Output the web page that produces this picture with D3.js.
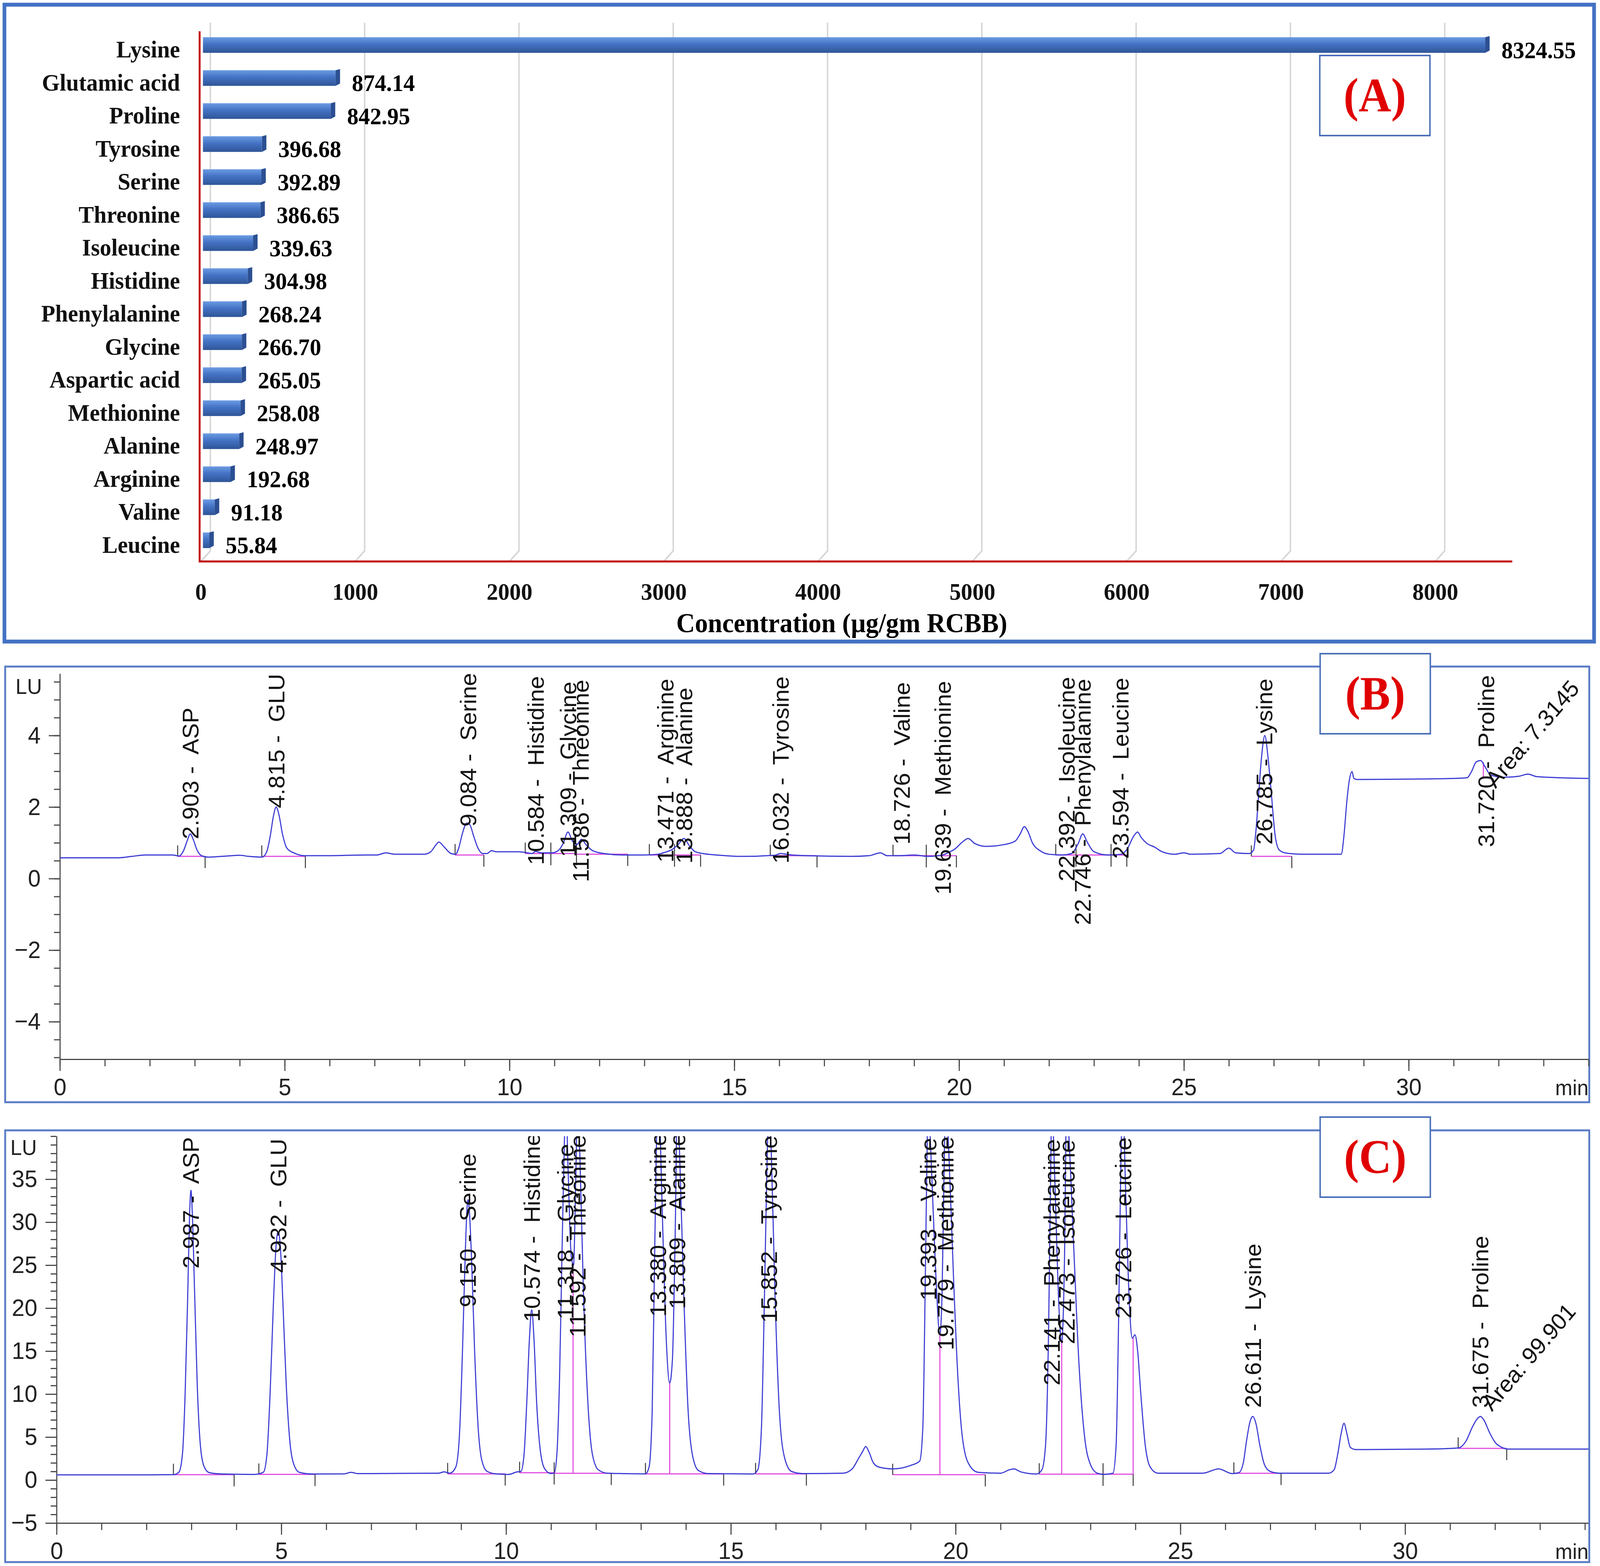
<!DOCTYPE html>
<html>
<head>
<meta charset="utf-8">
<script src="https://cdn.jsdelivr.net/npm/d3@7"></script>
<style>
  html, body { margin: 0; padding: 0; background: #fff; overflow: hidden; width: 100%; height: 100%; }
  svg { display: block; width: 100vw; height: 100vh; }
  .serif { font-family: "Liberation Serif", "Times New Roman", serif; font-weight: bold; }
  .sans { font-family: "Liberation Sans", Arial, sans-serif; }
  .peak { white-space: pre; }
</style>
</head>
<body>
<svg viewBox="0 0 4328 4008" preserveAspectRatio="none"></svg>
<script>

// ---- panel A : concentration of amino acids ----
let aminoNames = ["Lysine", "Glutamic acid", "Proline", "Tyrosine", "Serine", "Threonine",
  "Isoleucine", "Histidine", "Phenylalanine", "Glycine", "Aspartic acid", "Methionine",
  "Alanine", "Arginine", "Valine", "Leucine"];
let aminoValues = [8324.55, 874.14, 842.95, 396.68, 392.89, 386.65, 339.63, 304.98,
  268.24, 266.70, 265.05, 258.08, 248.97, 192.68, 91.18, 55.84];
let concTicks = [0, 1000, 2000, 3000, 4000, 5000, 6000, 7000, 8000];

// ---- panel B : sample chromatogram (time min, LU) ----
let bTrace = [[0,0.58],[1.3,0.58],[1.6,0.62],[1.9,0.66],[2.5,0.66],[2.65,0.63],[2.75,0.78],[2.83,1.05],
  [2.9,1.25],[2.97,1.08],[3.05,0.8],[3.15,0.64],[3.3,0.6],[3.7,0.63],[4.0,0.65],[4.2,0.62],[4.5,0.6],
  [4.6,0.75],[4.68,1.2],[4.75,1.75],[4.81,2.0],[4.87,1.8],[4.95,1.25],[5.05,0.85],[5.2,0.72],[5.45,0.64],
  [6.0,0.64],[6.8,0.66],[7.05,0.66],[7.25,0.72],[7.45,0.68],[8.1,0.68],[8.25,0.75],[8.35,0.92],[8.43,1.02],
  [8.55,0.88],[8.7,0.7],[8.8,0.68],[8.87,0.85],[8.95,1.25],[9.05,1.55],[9.12,1.5],[9.2,1.2],[9.3,0.85],
  [9.4,0.7],[9.5,0.7],[9.6,0.78],[9.7,0.75],[10.2,0.75],[10.4,0.72],[10.5,0.7],[10.58,0.76],[10.7,0.72],
  [10.95,0.72],[11.1,0.8],[11.2,1.0],[11.3,1.3],[11.4,1.05],[11.5,0.95],[11.6,1.1],[11.7,0.95],[11.85,0.78],
  [12.1,0.7],[12.5,0.66],[13.0,0.66],[13.3,0.68],[13.47,0.74],[13.6,0.8],[13.75,0.95],[13.88,1.12],
  [14.0,0.92],[14.12,0.76],[14.3,0.7],[14.6,0.66],[15.2,0.62],[15.9,0.65],[16.03,0.7],[16.2,0.67],
  [16.6,0.64],[17.6,0.62],[18.0,0.64],[18.25,0.72],[18.4,0.64],[18.7,0.64],[19.0,0.66],[19.3,0.62],
  [19.6,0.65],[19.75,0.72],[19.9,0.82],[20.1,1.05],[20.2,1.12],[20.35,0.98],[20.6,0.9],[21.0,0.95],
  [21.25,1.05],[21.36,1.25],[21.45,1.45],[21.53,1.32],[21.63,1.0],[21.8,0.78],[22.0,0.68],[22.3,0.66],
  [22.5,0.7],[22.65,0.98],[22.75,1.25],[22.85,1.02],[23.0,0.75],[23.3,0.66],[23.6,0.68],[23.75,0.85],
  [23.88,1.18],[23.97,1.3],[24.05,1.15],[24.18,0.98],[24.35,0.88],[24.5,0.76],[24.8,0.68],[25.0,0.72],
  [25.15,0.68],[25.8,0.7],[26.0,0.85],[26.15,0.72],[26.45,0.7],[26.55,0.8],[26.6,1.3],[26.66,2.3],
  [26.72,3.3],[26.8,4.0],[26.87,3.4],[26.95,2.3],[27.03,1.2],[27.12,0.8],[27.25,0.72],[27.6,0.68],
  [28.5,0.68],[28.56,1.2],[28.62,2.1],[28.68,2.75],[28.74,2.99],[28.78,2.8],[28.85,2.77],[30.0,2.78],
  [31.0,2.8],[31.3,2.82],[31.4,3.0],[31.5,3.26],[31.6,3.3],[31.7,3.12],[31.82,2.9],[32.1,2.83],
  [32.45,2.86],[32.65,2.92],[32.85,2.85],[34.0,2.8]];
// retention time, name, LU where the label starts
let bPeaks = [["2.903","ASP",1.1],["4.815","GLU",1.97],["9.084","Serine",1.45],["10.584","Histidine",0.38],
  ["11.309","Glycine",0.6],["11.586","Threonine",-0.1],["13.471","Arginine",0.45],["13.888","Alanine",0.42],
  ["16.032","Tyrosine",0.42],["18.726","Valine",0.95],["19.639","Methionine",-0.45],["22.392","Isoleucine",-0.08],
  ["22.746","Phenylalanine",-1.3],["23.594","Leucine",0.55],["26.785","Lysine",0.95],["31.720","Proline",0.88]];
// integration baselines: start, end, LU
let bBases = [[2.62,3.23,0.62],[4.49,5.46,0.62],[8.79,9.43,0.66],[10.35,10.92,0.7],[10.92,11.49,0.7],
  [11.49,12.63,0.68],[13.11,13.67,0.66],[13.67,14.25,0.66],[15.8,16.84,0.64],[18.53,19.27,0.64],
  [19.27,19.94,0.64],[22.15,22.6,0.66],[22.6,23.38,0.66],[23.38,23.73,0.66],[26.5,27.4,0.62]];
let bDrops = [[31.66, 2.84, 3.25]];
let bArea = [31.93, 2.5, "Area: 7.3145"];

// ---- panel C : standard chromatogram ----
let cTrace = [[0,0.6],[1.5,0.6],[2.6,0.62],[2.72,0.9],[2.8,3],[2.86,10],[2.92,22],[2.96,31],[2.99,33.7],
  [3.02,31],[3.07,22],[3.13,11],[3.2,4],[3.28,1.6],[3.4,0.85],[3.7,0.7],[4.4,0.65],[4.6,0.9],[4.68,3],
  [4.75,10],[4.82,20],[4.88,27],[4.93,28.9],[4.98,27],[5.04,20],[5.11,11],[5.19,4.5],[5.28,1.8],[5.4,0.9],
  [5.7,0.7],[6.4,0.72],[6.55,0.9],[6.7,0.75],[8.5,0.8],[8.62,0.95],[8.75,0.8],[8.88,1.5],[8.96,5],[9.03,15],
  [9.09,26],[9.13,31.5],[9.15,32.6],[9.18,31.5],[9.23,26],[9.3,15],[9.38,6],[9.46,2.3],[9.58,1.0],[9.8,0.7],
  [10.05,0.65],[10.25,0.95],[10.33,1.0],[10.4,3],[10.46,9],[10.52,16.5],[10.57,19.8],[10.62,16.5],[10.68,9],
  [10.76,3.5],[10.86,1.3],[11.0,0.75],[11.07,0.8],[11.13,3],[11.19,12],[11.25,28],[11.3,40],[11.33,44],
  [11.38,36],[11.45,26],[11.5,25],[11.55,35],[11.59,44],[11.64,38],[11.72,22],[11.82,9],[11.92,3],
  [12.05,1.2],[12.25,0.8],[12.6,0.75],[13.1,0.72],[13.18,1.5],[13.25,8],[13.31,28],[13.36,42],[13.4,44],
  [13.46,34],[13.55,18],[13.64,11.3],[13.7,14],[13.76,28],[13.81,44],[13.86,38],[13.95,22],[14.05,8],
  [14.15,2.8],[14.28,1.1],[14.5,0.75],[15.5,0.7],[15.6,1.2],[15.68,6],[15.75,22],[15.81,38],[15.85,44],
  [15.9,38],[15.98,22],[16.08,8],[16.2,2.5],[16.35,1.0],[16.6,0.75],[17.5,0.8],[17.7,1.3],[17.85,2.6],
  [17.93,3.3],[18.0,3.9],[18.07,3.3],[18.17,2.0],[18.3,1.5],[18.6,1.3],[19.0,1.7],[19.2,2.2],[19.27,6],
  [19.33,25],[19.37,40],[19.39,44],[19.45,38],[19.55,25],[19.65,17],[19.7,22],[19.75,38],[19.78,44],
  [19.85,38],[19.95,24],[20.05,12],[20.15,5],[20.3,1.8],[20.5,0.9],[21.0,0.8],[21.2,1.2],[21.3,1.3],
  [21.45,0.95],[21.8,0.7],[21.92,1.2],[22.0,4],[22.07,18],[22.12,38],[22.14,44],[22.2,36],[22.3,20],
  [22.36,16],[22.42,25],[22.47,44],[22.52,40],[22.62,28],[22.75,13],[22.87,5],[23.0,1.8],[23.15,0.8],
  [23.3,0.65],[23.5,0.8],[23.57,4],[23.63,20],[23.68,38],[23.72,44],[23.78,34],[23.87,20],[23.93,16.5],
  [23.99,16.9],[24.05,15],[24.12,10],[24.22,4],[24.33,1.5],[24.5,0.8],[25.5,0.8],[25.85,1.3],[26.15,0.75],
  [26.3,0.85],[26.4,2],[26.47,4.5],[26.55,6.8],[26.61,7.4],[26.68,6.6],[26.77,4],[26.87,1.8],[27.0,1.0],
  [27.2,0.8],[28.3,0.8],[28.42,1.2],[28.5,3],[28.58,5.5],[28.64,6.6],[28.7,5.5],[28.78,3.8],[28.9,3.55],
  [30.5,3.6],[31.1,3.7],[31.2,3.75],[31.35,4.5],[31.5,6.2],[31.6,7.1],[31.675,7.4],[31.75,7.0],[31.88,5.5],
  [32.0,4.4],[32.15,3.8],[32.3,3.6],[33.0,3.6],[34.1,3.6]];
let cPeaks = [["2.987","ASP",24.6],["4.932","GLU",24.1],["9.150","Serine",20.1],["10.574","Histidine",18.4],
  ["11.318","Glycine",18.7],["11.592","Threonine",16.6],["13.380","Arginine",19.0],["13.809","Alanine",19.9],
  ["15.852","Tyrosine",18.3],["19.393","Valine",20.9],["19.779","Methionine",15.1],["22.141","Phenylalanine",11.0],
  ["22.473","Isoleucine",15.8],["23.726","Leucine",18.8],["26.611","Lysine",8.4],["31.675","Proline",8.4]];
let cBases = [[2.6,3.95,0.62],[4.5,5.75,0.66],[8.7,9.98,0.72],[10.3,11.07,0.85],[11.07,12.34,0.78],
  [13.1,14.84,0.72],[15.55,16.68,0.72],[18.6,20.66,0.62],[21.86,23.28,0.68],[23.28,23.95,0.68],
  [26.19,27.24,0.78],[31.18,32.26,3.68]];
let cDrops = [[11.49,0.78,25],[13.64,0.72,11.3],[19.65,0.62,17],[22.36,0.68,16],[23.95,0.68,16.5]];
let cArea = [31.93, 7.9, "Area: 99.901"];

let timeMinor = d3.range(0, 35);
let timeMajor = [0, 5, 10, 15, 20, 25, 30];


let svg = d3.select('svg');
let defs = svg.append('defs');

svg.append('rect').attr('width', 4328).attr('height', 4008).attr('fill', '#fff');

/*--- PANEL A ---*/
svg.append('rect')
  .attr('x', 12).attr('y', 12).attr('width', 4300).attr('height', 1630)
  .attr('fill', 'none').attr('stroke', '#4472c4').attr('stroke-width', 10);

let xA = d3.scaleLinear().domain([0, 8000]).range([543, 3882]);
let yA = d3.scaleBand().domain(aminoNames).range([85, 1437]);

let grad = defs.append('linearGradient').attr('id', 'barGrad')
  .attr('x1', 0).attr('y1', 0).attr('x2', 0).attr('y2', 1);
grad.append('stop').attr('offset', '0%').attr('stop-color', '#6b9be3');
grad.append('stop').attr('offset', '45%').attr('stop-color', '#4472c4');
grad.append('stop').attr('offset', '100%').attr('stop-color', '#2f5597');

// gridlines on the back wall, with the short 3D foot
svg.append('g').selectAll('path')
  .data(concTicks)
  .enter().append('path')
  .attr('d', d => 'M' + (xA(d) + 26) + ',58 V1410 L' + xA(d) + ',1437')
  .attr('fill', 'none').attr('stroke', '#d6d6d6').attr('stroke-width', 4);

// red axes
svg.append('path')
  .attr('d', 'M540,80 V1437 H' + xA(8500))
  .attr('fill', 'none').attr('stroke', '#c00000').attr('stroke-width', 5);

let bars = svg.append('g').selectAll('g')
  .data(aminoNames)
  .enter().append('g');

bars.append('rect')
  .attr('x', xA(0) + 6)
  .attr('y', d => yA(d) + yA.bandwidth() / 2 - 32)
  .attr('width', (d, i) => Math.max(2, xA(aminoValues[i]) - xA(0) - 6))
  .attr('height', 40)
  .attr('fill', 'url(#barGrad)');

bars.append('path')
  .attr('d', (d, i) => {
    let xe = xA(aminoValues[i]), yt = yA(d) + yA.bandwidth() / 2 - 32;
    return 'M' + xe + ',' + yt + ' L' + (xe + 12) + ',' + (yt - 3) + ' V' + (yt + 34) + ' L' + xe + ',' + (yt + 40) + 'Z';
  })
  .attr('fill', '#2b4f92');

bars.append('text')
  .attr('class', 'serif')
  .attr('x', (d, i) => xA(aminoValues[i]) + 44)
  .attr('y', d => yA(d) + yA.bandwidth() / 2)
  .attr('dy', '0.35em')
  .attr('font-size', 62)
  .text((d, i) => d3.format('.2f')(aminoValues[i]));

// category axis
let catAxis = svg.append('g')
  .attr('transform', 'translate(487,0)')
  .call(d3.axisLeft(yA).tickSize(0).tickPadding(0));
catAxis.select('.domain').remove();
catAxis.selectAll('text').attr('class', 'serif').attr('font-size', 62).attr('fill', '#111');

// value axis
let valAxis = svg.append('g')
  .attr('transform', 'translate(0,1437)')
  .call(d3.axisBottom(xA).tickValues(concTicks).tickSize(0).tickPadding(54).tickFormat(d3.format('d')));
valAxis.select('.domain').remove();
valAxis.selectAll('text').attr('class', 'serif').attr('font-size', 62).attr('fill', '#111');

svg.append('text')
  .attr('class', 'serif')
  .attr('x', 2277).attr('y', 1618)
  .attr('text-anchor', 'middle')
  .attr('font-size', 70)
  .text('Concentration (µg/gm RCBB)');

/*--- LABEL BOXES ---*/
function labelBox(x, y, label) {
  svg.append('rect')
    .attr('x', x).attr('y', y).attr('width', 298).attr('height', 205)
    .attr('fill', '#fff').attr('stroke', '#4a6fb8').attr('stroke-width', 4);
  svg.append('text')
    .attr('class', 'serif')
    .attr('x', x + 149).attr('y', y + 143)
    .attr('text-anchor', 'middle')
    .attr('font-size', 122)
    .attr('fill', '#e00000')
    .text(label);
}

/*--- CHROMATOGRAM PANELS ---*/
function chromPanel(cfg) {
  let g = svg.append('g');

  g.append('rect')
    .attr('x', cfg.frame[0]).attr('y', cfg.frame[1]).attr('width', cfg.frame[2]).attr('height', cfg.frame[3])
    .attr('fill', 'none').attr('stroke', '#5a7cc6').attr('stroke-width', 5);

  let x = d3.scaleLinear().domain(cfg.xDomain).range(cfg.xRange);
  let y = d3.scaleLinear().domain(cfg.yDomain).range(cfg.yRange);

  let clipId = 'clip' + cfg.id;
  defs.append('clipPath').attr('id', clipId)
    .append('rect')
    .attr('x', cfg.xRange[0]).attr('y', cfg.yRange[1])
    .attr('width', cfg.xRange[1] - cfg.xRange[0]).attr('height', cfg.yRange[0] - cfg.yRange[1]);

  // axes: minor ticks first, then the labelled ones
  let yMinor = d3.range(cfg.yDomain[0], cfg.yDomain[1] + 0.001, cfg.yStep)
    .map(v => Math.round(v / cfg.yStep) * cfg.yStep)
    .filter(v => v >= cfg.yDomain[0] && v <= cfg.yDomain[1]);
  g.append('g').attr('transform', 'translate(' + cfg.xRange[0] + ',0)')
    .call(d3.axisLeft(y).tickValues(yMinor).tickSize(16).tickSizeOuter(0).tickFormat(''));
  let yMaj = g.append('g').attr('transform', 'translate(' + cfg.xRange[0] + ',0)')
    .call(d3.axisLeft(y).tickValues(cfg.yMajor).tickSize(30).tickSizeOuter(0).tickPadding(22).tickFormat(d3.format('d')));
  yMaj.select('.domain').remove();

  g.append('g').attr('transform', 'translate(0,' + cfg.yRange[0] + ')')
    .call(d3.axisBottom(x).tickValues(timeMinor.filter(v => v <= cfg.xDomain[1])).tickSize(18).tickSizeOuter(0).tickFormat(''));
  let xMaj = g.append('g').attr('transform', 'translate(0,' + cfg.yRange[0] + ')')
    .call(d3.axisBottom(x).tickValues(timeMajor).tickSize(30).tickSizeOuter(0).tickPadding(18).tickFormat(d3.format('d')));
  xMaj.select('.domain').remove();

  g.selectAll('.domain, .tick line').attr('stroke', '#4a4a4a').attr('stroke-width', 3);
  g.selectAll('.tick text').attr('class', 'sans').attr('font-size', 62).attr('fill', '#222');

  g.append('text').attr('class', 'sans')
    .attr('x', cfg.xRange[1]).attr('y', cfg.yRange[0] + 92)
    .attr('text-anchor', 'end').attr('font-size', 56).attr('fill', '#222')
    .text('min');
  g.append('text').attr('class', 'sans')
    .attr('x', cfg.lu[0]).attr('y', cfg.lu[1])
    .attr('font-size', 56).attr('fill', '#222')
    .text('LU');

  let plot = g.append('g').attr('clip-path', 'url(#' + clipId + ')');

  // integration baselines
  plot.append('g').selectAll('line')
    .data(cfg.bases)
    .enter().append('line')
    .attr('x1', d => x(d[0])).attr('x2', d => x(d[1]))
    .attr('y1', d => y(d[2])).attr('y2', d => y(d[2]))
    .attr('stroke', '#e04ee0').attr('stroke-width', 3);
  plot.append('g').selectAll('line')
    .data(cfg.drops)
    .enter().append('line')
    .attr('x1', d => x(d[0])).attr('x2', d => x(d[0]))
    .attr('y1', d => y(d[1])).attr('y2', d => y(d[2]))
    .attr('stroke', '#e04ee0').attr('stroke-width', 3);
  plot.append('g').selectAll('path')
    .data(cfg.bases)
    .enter().append('path')
    .attr('d', d => 'M' + x(d[0]) + ',' + y(d[2]) + ' v-28 M' + x(d[1]) + ',' + y(d[2]) + ' v30')
    .attr('stroke', '#333').attr('stroke-width', 2.5);

  // signal
  let line = d3.line()
    .x(d => x(d[0]))
    .y(d => y(d[1]))
    .curve(d3.curveMonotoneX);
  plot.append('path')
    .datum(cfg.trace)
    .attr('d', line)
    .attr('fill', 'none')
    .attr('stroke', '#3c3cd4')
    .attr('stroke-width', 3);

  // peak labels
  plot.append('g').selectAll('text')
    .data(cfg.peaks)
    .enter().append('text')
    .attr('class', 'sans peak')
    .attr('transform', d => 'translate(' + x(+d[0]) + ',' + y(d[2]) + ') rotate(-90)')
    .attr('dy', '0.36em')
    .attr('font-size', 60)
    .attr('fill', '#111')
    .text(d => d[0] + ' -  ' + d[1]);

  plot.append('text')
    .attr('class', 'sans')
    .attr('transform', 'translate(' + x(cfg.area[0]) + ',' + y(cfg.area[1]) + ') rotate(-48)')
    .attr('font-size', 60)
    .attr('fill', '#111')
    .text(cfg.area[2]);
}

chromPanel({
  id: 'B', frame: [14, 1706, 4285, 1115],
  xDomain: [0, 34.0], xRange: [162, 4297],
  yDomain: [-5.05, 5.73], yRange: [2711, 1724], yStep: 0.5, yMajor: [-4, -2, 0, 2, 4],
  lu: [42, 1776],
  trace: bTrace, peaks: bPeaks, bases: bBases, drops: bDrops, area: bArea
});

chromPanel({
  id: 'C', frame: [14, 2893, 4285, 1105],
  xDomain: [0, 34.08], xRange: [153, 4297],
  yDomain: [-5, 40], yRange: [3898, 2908], yStep: 1, yMajor: [-5, 0, 5, 10, 15, 20, 25, 30, 35],
  lu: [28, 2956],
  trace: cTrace, peaks: cPeaks, bases: cBases, drops: cDrops, area: cArea
});

labelBox(3570, 142, '(A)');
labelBox(3571, 1673, '(B)');
labelBox(3571, 2859, '(C)');

</script>
</body>
</html>
